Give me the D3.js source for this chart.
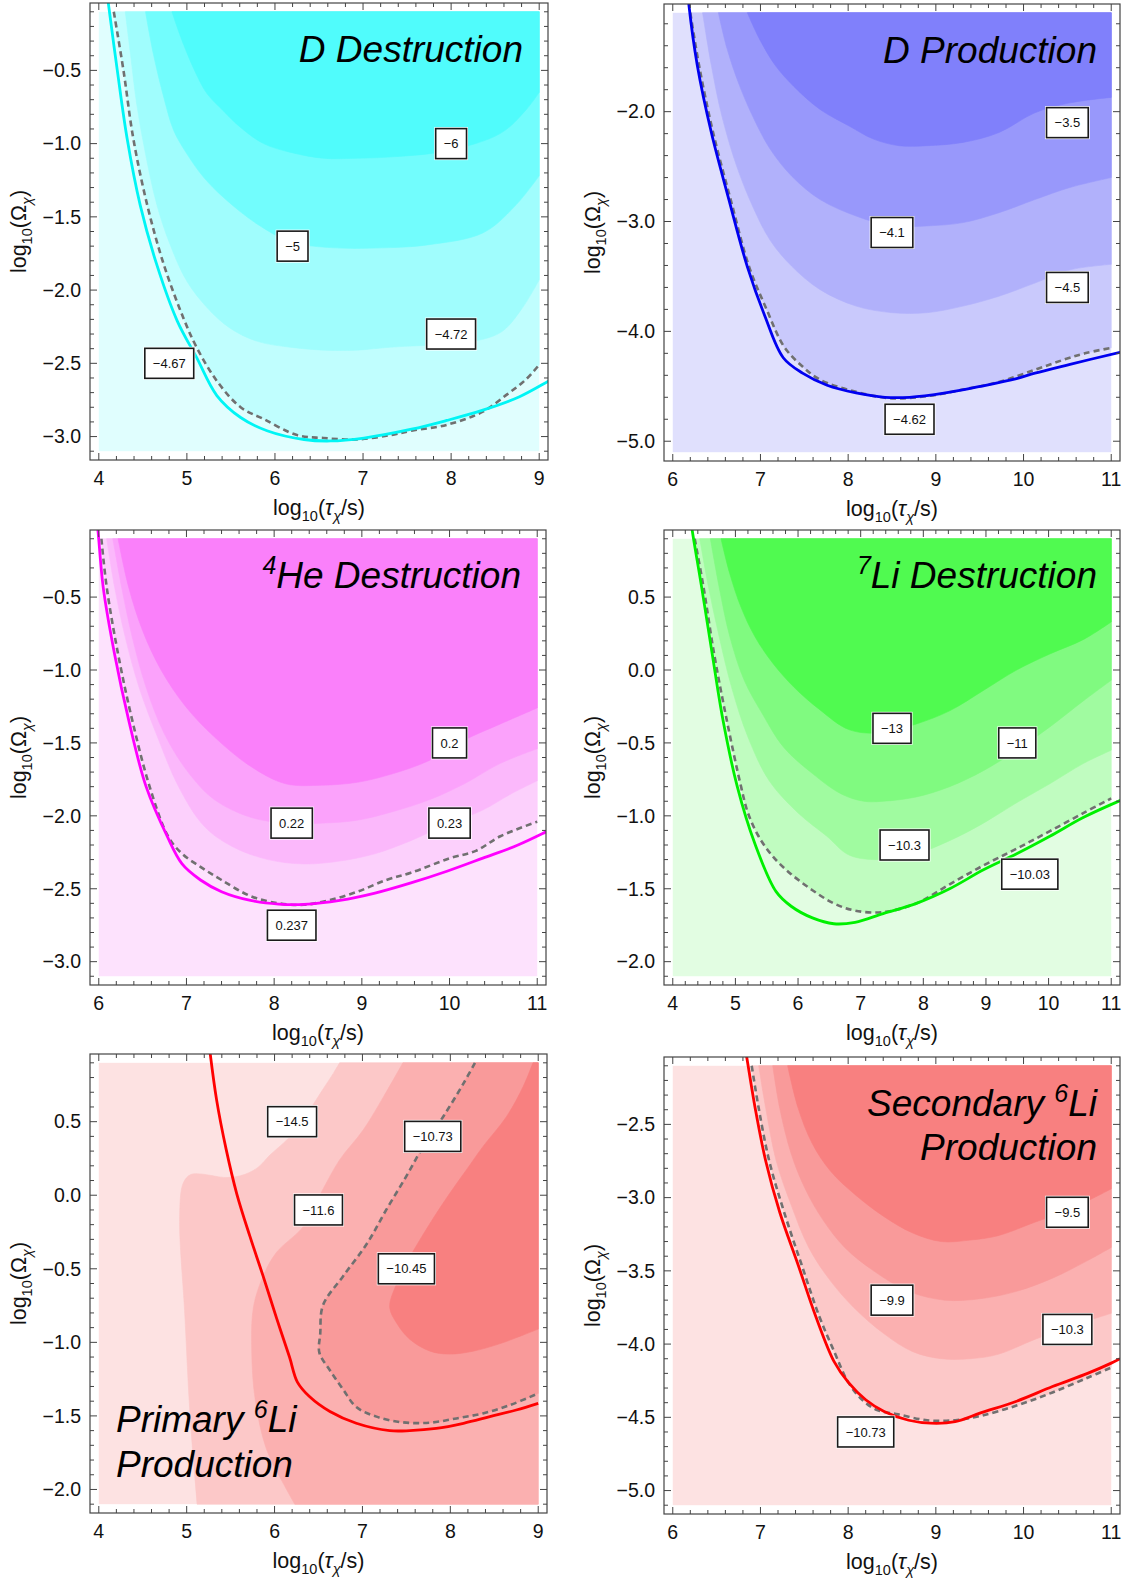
<!DOCTYPE html>
<html><head><meta charset="utf-8">
<script src="https://cdn.jsdelivr.net/npm/d3@7"></script>
<style>
body{margin:0;background:#fff}
svg{display:block}
text{font-family:"Liberation Sans",Arial,Helvetica,sans-serif}
</style>
</head><body>
<svg id="chart" width="1130" height="1579"></svg>
<script>
// ---------------- DATA (log10 tau, log10 Omega) ----------------
// Panel 1: D Destruction
const p1Domain = {x:[4,9], y:[-3.1,-0.1]};
const p1XTicks = [4,5,6,7,8,9];
const p1YTicks = [-0.5,-1.0,-1.5,-2.0,-2.5,-3.0];
const p1Levels = ["−4.67","−4.72","−5","−6"];
const p1C467 = [[4.17,-0.1],[4.28,-0.50],[4.39,-0.96],[4.55,-1.42],[4.74,-1.83],[4.96,-2.19],[5.11,-2.39],[5.34,-2.62],[5.61,-2.80],[5.87,-2.88],[6.25,-2.99],[6.55,-3.01],[6.93,-3.02],[7.31,-2.99],[7.55,-2.96],[7.95,-2.92],[8.36,-2.83],[8.64,-2.71],[8.85,-2.61],[9.0,-2.51]];
const p1C472 = [[4.30,-0.1],[4.36,-0.39],[4.43,-0.73],[4.53,-1.07],[4.66,-1.42],[4.81,-1.69],[5.00,-1.94],[5.23,-2.12],[5.49,-2.26],[5.80,-2.35],[6.17,-2.39],[6.55,-2.41],[6.93,-2.41],[7.31,-2.39],[7.95,-2.37],[8.16,-2.36],[8.56,-2.29],[8.80,-2.13],[9.0,-1.93]];
const p1C5 = [[4.53,-0.1],[4.62,-0.39],[4.74,-0.69],[4.85,-0.91],[5.00,-1.07],[5.19,-1.23],[5.42,-1.37],[5.80,-1.55],[6.18,-1.67],[6.63,-1.71],[7.31,-1.71],[7.75,-1.69],[8.36,-1.61],[8.72,-1.43],[9.0,-1.22]];
const p1C6 = [[4.83,-0.1],[4.96,-0.32],[5.11,-0.53],[5.23,-0.66],[5.42,-0.78],[5.61,-0.89],[5.87,-1.0],[6.18,-1.06],[6.55,-1.10],[6.93,-1.10],[7.34,-1.09],[7.95,-1.05],[8.56,-0.93],[8.85,-0.77],[9.0,-0.65]];
const p1Bound = [[4.10,0.0],[4.11,-0.05],[4.21,-0.50],[4.32,-0.96],[4.47,-1.42],[4.66,-1.83],[4.89,-2.21],[5.11,-2.46],[5.34,-2.72],[5.61,-2.87],[5.91,-2.96],[6.33,-3.02],[6.63,-3.03],[7.01,-3.01],[7.55,-2.95],[7.95,-2.89],[8.36,-2.82],[8.77,-2.73],[9.11,-2.62],[9.2,-2.59]];
const p1LabelPos = [[4.8,-2.5],[8.0,-2.3],[6.2,-1.7],[8.0,-1.0]];

// Panel 2: D Production
const p2Domain = {x:[6,11], y:[-5.1,-1.1]};
const p2XTicks = [6,7,8,9,10,11];
const p2YTicks = [-2.0,-3.0,-4.0,-5.0];
const p2Levels = ["−4.62","−4.5","−4.1","−3.5"];
const p2C462 = [[6.20,-1.1],[6.30,-1.58],[6.46,-2.19],[6.66,-2.80],[6.87,-3.41],[7.07,-3.80],[7.27,-4.14],[7.48,-4.32],[7.68,-4.44],[8.09,-4.55],[8.50,-4.61],[8.90,-4.59],[9.31,-4.53],[9.72,-4.46],[10.13,-4.35],[10.45,-4.26],[10.70,-4.20],[11.0,-4.15]];
const p2C45 = [[6.34,-1.1],[6.44,-1.58],[6.56,-2.04],[6.73,-2.50],[6.91,-2.86],[7.11,-3.17],[7.36,-3.41],[7.68,-3.62],[8.09,-3.77],[8.50,-3.83],[8.90,-3.83],[9.31,-3.77],[9.72,-3.68],[10.13,-3.56],[10.53,-3.44],[11.0,-3.39]];
const p2C41 = [[6.52,-1.1],[6.62,-1.43],[6.75,-1.74],[6.91,-2.04],[7.11,-2.34],[7.36,-2.59],[7.68,-2.80],[8.09,-2.95],[8.50,-3.04],[8.90,-3.04],[9.31,-3.01],[9.72,-2.92],[10.13,-2.80],[10.53,-2.69],[11.0,-2.60]];
const p2C35 = [[6.85,-1.1],[6.99,-1.34],[7.17,-1.58],[7.38,-1.77],[7.68,-1.98],[8.01,-2.13],[8.29,-2.25],[8.58,-2.31],[8.90,-2.31],[9.31,-2.28],[9.72,-2.19],[10.13,-2.01],[10.53,-1.92],[11.0,-1.87]];
const p2Bound = [[6.17,-0.9],[6.18,-1.0],[6.28,-1.58],[6.44,-2.19],[6.64,-2.80],[6.85,-3.41],[7.05,-3.86],[7.26,-4.24],[7.48,-4.38],[7.76,-4.49],[8.09,-4.56],[8.42,-4.60],[8.70,-4.60],[9.11,-4.56],[9.51,-4.50],[9.92,-4.43],[10.13,-4.38],[10.53,-4.30],[11.1,-4.19],[11.2,-4.17]];
const p2LabelPos = [[8.7,-4.8],[10.5,-3.6],[8.5,-3.1],[10.5,-2.1]];

// Panel 3: 4He Destruction
const p3Domain = {x:[6,11], y:[-3.1,-0.1]};
const p3XTicks = [6,7,8,9,10,11];
const p3YTicks = [-0.5,-1.0,-1.5,-2.0,-2.5,-3.0];
const p3Levels = ["0.237","0.23","0.22","0.2"];
const p3C237 = [[6.03,-0.1],[6.09,-0.43],[6.22,-0.89],[6.38,-1.34],[6.58,-1.80],[6.79,-2.14],[6.95,-2.26],[7.16,-2.35],[7.40,-2.44],[7.73,-2.55],[8.05,-2.60],[8.34,-2.61],[8.62,-2.58],[8.95,-2.52],[9.28,-2.44],[9.56,-2.39],[10.01,-2.29],[10.30,-2.24],[10.58,-2.14],[11.0,-2.04]];
const p3C23 = [[6.09,-0.1],[6.18,-0.43],[6.30,-0.77],[6.46,-1.12],[6.67,-1.46],[6.91,-1.80],[7.20,-2.07],[7.52,-2.21],[7.93,-2.30],[8.34,-2.33],[8.75,-2.31],[9.15,-2.26],[9.56,-2.17],[9.97,-2.06],[10.38,-1.96],[10.70,-1.85],[11.0,-1.76]];
const p3C22 = [[6.16,-0.1],[6.26,-0.43],[6.38,-0.77],[6.54,-1.12],[6.75,-1.44],[7.03,-1.71],[7.32,-1.89],[7.73,-2.01],[8.13,-2.05],[8.54,-2.05],[8.95,-2.03],[9.36,-1.97],[9.77,-1.89],[10.17,-1.78],[10.58,-1.64],[11.0,-1.54]];
const p3C20 = [[6.22,-0.1],[6.34,-0.43],[6.50,-0.73],[6.71,-1.0],[6.99,-1.25],[7.32,-1.46],[7.73,-1.66],[8.13,-1.78],[8.54,-1.79],[8.95,-1.77],[9.36,-1.71],[9.77,-1.62],[10.17,-1.48],[10.58,-1.37],[11.0,-1.26]];
const p3Bound = [[5.98,0.0],[5.99,-0.04],[6.05,-0.43],[6.18,-0.89],[6.34,-1.34],[6.54,-1.80],[6.78,-2.14],[6.95,-2.33],[7.16,-2.44],[7.40,-2.52],[7.73,-2.58],[8.05,-2.605],[8.34,-2.607],[8.75,-2.58],[9.15,-2.53],[9.56,-2.46],[9.97,-2.38],[10.38,-2.29],[10.78,-2.20],[11.1,-2.11],[11.2,-2.08]];
const p3LabelPos = [[8.2,-2.75],[10.0,-2.05],[8.2,-2.05],[10.0,-1.5]];

// Panel 4: 7Li Destruction
const p4Domain = {x:[4,11], y:[-2.1,0.9]};
const p4XTicks = [4,5,6,7,8,9,10,11];
const p4YTicks = [0.5,0.0,-0.5,-1.0,-1.5,-2.0];
const p4Levels = ["−10.03","−10.3","−11","−13"];
const p4C1003 = [[4.35,0.9],[4.49,0.57],[4.66,0.11],[4.86,-0.34],[5.09,-0.80],[5.20,-0.98],[5.37,-1.14],[5.60,-1.28],[5.89,-1.40],[6.23,-1.51],[6.57,-1.60],[6.91,-1.65],[7.36,-1.66],[7.89,-1.60],[8.42,-1.47],[8.96,-1.34],[9.49,-1.225],[10.02,-1.105],[10.56,-0.98],[11.0,-0.88]];
const p4C103 = [[4.43,0.9],[4.57,0.57],[4.74,0.23],[4.94,-0.12],[5.20,-0.46],[5.54,-0.76],[6.0,-0.98],[6.46,-1.14],[6.82,-1.27],[7.36,-1.30],[7.89,-1.26],[8.42,-1.17],[8.96,-1.05],[9.49,-0.91],[10.02,-0.78],[10.56,-0.64],[11.0,-0.55]];
const p4C11 = [[4.60,0.9],[4.74,0.57],[4.91,0.23],[5.14,-0.07],[5.43,-0.30],[5.77,-0.53],[6.23,-0.71],[6.69,-0.85],[7.05,-0.90],[7.36,-0.90],[7.89,-0.87],[8.42,-0.80],[8.96,-0.69],[9.49,-0.55],[10.02,-0.39],[10.56,-0.21],[11.0,-0.07]];
const p4C13 = [[4.77,0.9],[4.91,0.66],[5.09,0.43],[5.31,0.23],[5.60,0.045],[5.94,-0.12],[6.34,-0.27],[6.82,-0.41],[7.36,-0.43],[7.89,-0.37],[8.42,-0.28],[8.96,-0.14],[9.49,0.0],[10.02,0.11],[10.56,0.21],[11.0,0.33]];
const p4Bound = [[4.30,1.0],[4.31,0.96],[4.46,0.57],[4.63,0.11],[4.80,-0.34],[5.03,-0.80],[5.31,-1.19],[5.65,-1.52],[5.89,-1.62],[6.23,-1.70],[6.57,-1.74],[6.91,-1.73],[7.36,-1.67],[7.89,-1.60],[8.42,-1.50],[8.96,-1.37],[9.49,-1.26],[10.02,-1.14],[10.56,-1.01],[11.17,-0.89]];
const p4LabelPos = [[9.7,-1.4],[7.7,-1.2],[9.5,-0.5],[7.5,-0.4]];

// Panel 5: Primary 6Li Production
const p5Domain = {x:[4,9], y:[-2.1,0.9]};
const p5XTicks = [4,5,6,7,8,9];
const p5YTicks = [0.5,0.0,-0.5,-1.0,-1.5,-2.0];
const p5Levels = ["−14.5","−11.6","−10.73","−10.45"];
const p5C145 = [[6.74,0.9],[6.67,0.83],[6.55,0.72],[6.40,0.58],[6.25,0.445],[6.10,0.354],[5.95,0.275],[5.80,0.184],[5.61,0.132],[5.42,0.121],[5.30,0.132],[5.15,0.145],[5.04,0.139],[4.96,0.082],[4.92,-0.145],[4.98,-0.825],[5.04,-1.51],[5.12,-2.1]];
const p5C116 = [[7.46,0.9],[7.24,0.67],[7.01,0.445],[6.74,0.24],[6.55,0.04],[6.33,-0.21],[6.02,-0.39],[5.87,-0.55],[5.76,-0.76],[5.74,-1.05],[5.78,-1.39],[5.91,-1.73],[6.10,-1.96],[6.23,-2.1]];
const p5C1073 = [[8.28,0.9],[8.15,0.76],[7.92,0.535],[7.69,0.33],[7.50,0.13],[7.27,-0.10],[7.05,-0.33],[6.78,-0.55],[6.55,-0.75],[6.52,-0.94],[6.51,-1.07],[6.63,-1.19],[6.78,-1.32],[6.93,-1.44],[7.16,-1.505],[7.46,-1.544],[7.77,-1.546],[8.07,-1.517],[8.37,-1.483],[8.68,-1.426],[9.0,-1.347]];
const p5C1045 = [[8.94,0.9],[8.83,0.74],[8.64,0.535],[8.37,0.33],[8.18,0.17],[7.99,0.01],[7.77,-0.19],[7.54,-0.42],[7.39,-0.60],[7.31,-0.76],[7.39,-0.87],[7.54,-0.98],[7.77,-1.06],[7.99,-1.08],[8.26,-1.06],[8.56,-1.01],[8.83,-0.95],[9.0,-0.91]];
const p5Bound = [[5.26,1.0],[5.34,0.65],[5.45,0.31],[5.57,0.01],[5.72,-0.28],[5.87,-0.55],[6.02,-0.83],[6.17,-1.10],[6.26,-1.27],[6.40,-1.37],[6.63,-1.47],[6.93,-1.55],[7.31,-1.60],[7.54,-1.60],[7.84,-1.585],[8.15,-1.55],[8.45,-1.505],[8.75,-1.46],[9.0,-1.415]];
const p5LabelPos = [[6.2,0.5],[6.5,-0.1],[7.8,0.4],[7.5,-0.5]];
const p5DashedIndex = 2;

// Panel 6: Secondary 6Li Production
const p6Domain = {x:[6,11], y:[-5.1,-2.1]};
const p6XTicks = [6,7,8,9,10,11];
const p6YTicks = [-2.5,-3.0,-3.5,-4.0,-4.5,-5.0];
const p6Levels = ["−10.73","−10.3","−9.9","−9.5"];
const p6C1073 = [[6.90,-2.1],[6.98,-2.39],[7.10,-2.75],[7.27,-3.10],[7.47,-3.46],[7.67,-3.81],[7.84,-4.05],[8.0,-4.26],[8.16,-4.38],[8.33,-4.45],[8.57,-4.48],[8.90,-4.52],[9.22,-4.52],[9.51,-4.49],[9.92,-4.42],[10.33,-4.33],[10.73,-4.23],[11.0,-4.16]];
const p6C103 = [[6.98,-2.1],[7.06,-2.39],[7.18,-2.75],[7.35,-3.05],[7.55,-3.34],[7.80,-3.57],[8.08,-3.76],[8.41,-3.93],[8.73,-4.05],[9.06,-4.10],[9.39,-4.10],[9.71,-4.07],[10.12,-3.97],[10.53,-3.88],[11.0,-3.79]];
const p6C99 = [[7.14,-2.1],[7.22,-2.39],[7.35,-2.70],[7.51,-2.94],[7.71,-3.15],[7.96,-3.34],[8.29,-3.50],[8.69,-3.64],[9.10,-3.70],[9.51,-3.69],[9.92,-3.64],[10.33,-3.55],[10.73,-3.43],[11.0,-3.34]];
const p6C95 = [[7.31,-2.1],[7.43,-2.39],[7.59,-2.63],[7.80,-2.82],[8.08,-2.98],[8.41,-3.13],[8.73,-3.24],[9.06,-3.30],[9.39,-3.29],[9.71,-3.26],[10.12,-3.17],[10.53,-3.08],[11.0,-2.94]];
const p6Bound = [[6.83,-2.0],[6.84,-2.03],[6.94,-2.39],[7.06,-2.75],[7.22,-3.10],[7.43,-3.46],[7.63,-3.81],[7.84,-4.12],[8.0,-4.26],[8.20,-4.38],[8.41,-4.46],[8.69,-4.52],[8.94,-4.54],[9.22,-4.53],[9.51,-4.47],[9.92,-4.39],[10.33,-4.29],[10.73,-4.20],[11.0,-4.13],[11.1,-4.10]];
const p6LabelPos = [[8.2,-4.6],[10.5,-3.9],[8.5,-3.7],[10.5,-3.1]];

// ---------------- STYLE / LAYOUT ----------------
const cyanFills = ["#e0fefe","#c0fefe","#a0fdfd","#72fdfd","#50fcfc"];
const blueFills = ["#e0e0fd","#c9c9fc","#b1b1fb","#9898fb","#8080fb"];
const magentaFills = ["#fde2fd","#fcd0fc","#fbb8fb","#fba2fb","#fa80fa"];
const greenFills = ["#e2fde2","#c0fcc0","#a0fba0","#80fa80","#50fa50"];
const redFills = ["#fde2e2","#fcc8c8","#fbb0b0","#f99a9a","#f88080"];

const panels = [
  {dom:p1Domain, xt:p1XTicks, yt:p1YTicks, yMinor:0.1, curves:[p1C467,p1C472,p1C5,p1C6], levels:p1Levels, lab:p1LabelPos, bound:p1Bound, dashed:0,
   fills:cyanFills, lineColor:"#00f5f5", frame:[90,3,458,457], title:[[["D Destruction"]]], anchor:"end", tx:523, ty:[62]},
  {dom:p2Domain, xt:p2XTicks, yt:p2YTicks, yMinor:0.2, curves:[p2C462,p2C45,p2C41,p2C35], levels:p2Levels, lab:p2LabelPos, bound:p2Bound, dashed:0,
   fills:blueFills, lineColor:"#0000f0", frame:[664,4,456,457], title:[[["D Production"]]], anchor:"end", tx:1097, ty:[63]},
  {dom:p3Domain, xt:p3XTicks, yt:p3YTicks, yMinor:0.1, curves:[p3C237,p3C23,p3C22,p3C20], levels:p3Levels, lab:p3LabelPos, bound:p3Bound, dashed:0,
   fills:magentaFills, lineColor:"#ff00ff", frame:[90,530,456,455], title:[[["4","sup"],["He Destruction"]]], anchor:"end", tx:521, ty:[588]},
  {dom:p4Domain, xt:p4XTicks, yt:p4YTicks, yMinor:0.1, curves:[p4C1003,p4C103,p4C11,p4C13], levels:p4Levels, lab:p4LabelPos, bound:p4Bound, dashed:0,
   fills:greenFills, lineColor:"#00f000", frame:[664,530,456,455], title:[[["7","sup"],["Li Destruction"]]], anchor:"end", tx:1097, ty:[588]},
  {dom:p5Domain, xt:p5XTicks, yt:p5YTicks, yMinor:0.1, curves:[p5C145,p5C116,p5C1073,p5C1045], levels:p5Levels, lab:p5LabelPos, bound:p5Bound, dashed:p5DashedIndex,
   fills:redFills, lineColor:"#ff0000", frame:[90,1054,457,459], title:[[["Primary "],["6","sup"],["Li"]],[["Production"]]], anchor:"start", tx:116, ty:[1432,1477]},
  {dom:p6Domain, xt:p6XTicks, yt:p6YTicks, yMinor:0.1, curves:[p6C1073,p6C103,p6C99,p6C95], levels:p6Levels, lab:p6LabelPos, bound:p6Bound, dashed:0,
   fills:redFills, lineColor:"#ff0000", frame:[664,1057,456,457], title:[[["Secondary "],["6","sup"],["Li"]],[["Production"]]], anchor:"end", tx:1097, ty:[1116,1160]}
];

const svg = d3.select("#chart");
const frameColor = "#444";
const tickFont = 19.5, axisFont = 21.5, subFont = 14.5;
const fmtY = v => d3.format(".1f")(v).replace("-", "−");

// walk the domain rectangle counter-clockwise from the curve end back to its start
function closingCorners(pts, dom){
  const [x0,x1] = dom.x, [y0,y1] = dom.y;
  const W = x1-x0, H = y1-y0, P = 2*(W+H);
  const t = p => {
    const [x,y] = p;
    const d = [Math.abs(y-y0), Math.abs(x-x1), Math.abs(y-y1), Math.abs(x-x0)];
    const m = d.indexOf(Math.min(...d));
    if (m===0) return x-x0;
    if (m===1) return W + (y-y0);
    if (m===2) return W+H + (x1-x);
    return 2*W+H + (y1-y);
  };
  const corners = [[W,[x1,y0]],[W+H,[x1,y1]],[2*W+H,[x0,y1]],[P,[x0,y0]]];
  const te = t(pts[pts.length-1]);
  let ts = t(pts[0]); if (ts < te) ts += P;
  const out = [];
  for (let k=0;k<2;k++) for (const [ct,c] of corners){ const tt = ct + k*P; if (tt>te && tt<ts) out.push([tt,c]); }
  out.sort((a,b)=>a[0]-b[0]);
  return out.map(d=>d[1]);
}

function addAxisTitle(sel, parts, size){
  parts.forEach(p=>{
    const ts = sel.append("tspan").text(p.t);
    if (p.it) ts.attr("font-style","italic");
    if (p.sub){ ts.attr("font-size",subFont).attr("dy", size*0.28); }
    if (p.back){ ts.attr("dy", -size*0.28); }
  });
}

panels.forEach((P,pi)=>{
  const [L,T,W,H] = P.frame;
  const dx = P.dom.x[1]-P.dom.x[0], dy = P.dom.y[1]-P.dom.y[0];
  const x = d3.scaleLinear().domain([P.dom.x[0]-0.02*dx, P.dom.x[1]+0.02*dx]).range([L, L+W]);
  const y = d3.scaleLinear().domain([P.dom.y[0]-0.02*dy, P.dom.y[1]+0.02*dy]).range([T+H, T]);
  const g = svg.append("g");
  const cid = "clip"+pi;
  g.append("clipPath").attr("id",cid).append("rect").attr("x",L).attr("y",T).attr("width",W).attr("height",H);
  const line = d3.line().x(d=>x(d[0])).y(d=>y(d[1])).curve(d3.curveCatmullRom.alpha(0.5));

  // base fill
  g.append("rect").attr("x",x(P.dom.x[0])).attr("y",y(P.dom.y[1]))
    .attr("width",x(P.dom.x[1])-x(P.dom.x[0])).attr("height",y(P.dom.y[0])-y(P.dom.y[1]))
    .attr("fill",P.fills[0]);
  // contour regions
  P.curves.forEach((c,i)=>{
    const corners = closingCorners(c, P.dom);
    const d = line(c) + corners.map(k=>`L${x(k[0])},${y(k[1])}`).join("") + "Z";
    g.append("path").attr("d",d).attr("fill",P.fills[i+1]).attr("stroke",P.fills[i+1]).attr("stroke-width",0.6);
  });
  const lg = g.append("g").attr("clip-path",`url(#${cid})`);
  lg.append("path").attr("d",line(P.curves[P.dashed])).attr("fill","none")
    .attr("stroke","#707070").attr("stroke-width",2.6).attr("stroke-dasharray","6,4");
  lg.append("path").attr("d",line(P.bound)).attr("fill","none")
    .attr("stroke",P.lineColor).attr("stroke-width",2.8).attr("stroke-linejoin","round");

  // frame + ticks
  g.append("rect").attr("x",L).attr("y",T).attr("width",W).attr("height",H)
    .attr("fill","none").attr("stroke",frameColor).attr("stroke-width",1.2);
  const xd = x.domain(), yd = y.domain();
  const minorX = d3.range(Math.ceil(xd[0]/0.2)*0.2, xd[1]+1e-9, 0.2).map(v=>+v.toFixed(4));
  const minorY = d3.range(Math.ceil(yd[0]/P.yMinor)*P.yMinor, yd[1]+1e-9, P.yMinor).map(v=>+v.toFixed(4));
  const tk = g.append("g").attr("stroke",frameColor).attr("stroke-width",1);
  minorX.forEach(v=>{
    const isMaj = P.xt.some(m=>Math.abs(m-v)<1e-6); const len = isMaj?7:4;
    tk.append("line").attr("x1",x(v)).attr("x2",x(v)).attr("y1",T+H).attr("y2",T+H-len);
    tk.append("line").attr("x1",x(v)).attr("x2",x(v)).attr("y1",T).attr("y2",T+len);
  });
  minorY.forEach(v=>{
    const isMaj = P.yt.some(m=>Math.abs(m-v)<1e-6); const len = isMaj?7:4;
    tk.append("line").attr("y1",y(v)).attr("y2",y(v)).attr("x1",L).attr("x2",L+len);
    tk.append("line").attr("y1",y(v)).attr("y2",y(v)).attr("x1",L+W).attr("x2",L+W-len);
  });
  P.xt.forEach(v=>{
    g.append("text").attr("x",x(v)).attr("y",T+H+25).attr("text-anchor","middle")
      .attr("font-size",tickFont).attr("fill","#111").text(d3.format("d")(v));
  });
  P.yt.forEach(v=>{
    g.append("text").attr("x",L-9).attr("y",y(v)).attr("dy","0.35em").attr("text-anchor","end")
      .attr("font-size",tickFont).attr("fill","#111").text(fmtY(v));
  });
  // axis titles
  const xt = g.append("text").attr("x",L+W/2).attr("y",T+H+55).attr("text-anchor","middle")
    .attr("font-size",axisFont).attr("fill","#111");
  addAxisTitle(xt,[{t:"log"},{t:"10",sub:1},{t:"(",back:1},{t:"τ",it:1},{t:"χ",it:1,sub:1},{t:"/s)",back:1}],axisFont);
  const yt = g.append("text").attr("transform",`translate(${L-64},${T+H/2}) rotate(-90)`).attr("text-anchor","middle")
    .attr("font-size",axisFont).attr("fill","#111");
  addAxisTitle(yt,[{t:"log"},{t:"10",sub:1},{t:"(Ω",back:1},{t:"χ",it:1,sub:1},{t:")",back:1}],axisFont);

  // panel title
  P.title.forEach((lineParts,li)=>{
    const t = g.append("text").attr("x",P.tx).attr("y",P.ty[li]).attr("text-anchor",P.anchor)
      .attr("font-size",37).attr("font-style","italic").attr("fill","#000");
    let raised = false;
    lineParts.forEach(pp=>{
      const s = t.append("tspan").text(pp[0]);
      if (pp[1]==="sup"){ s.attr("font-size",25).attr("dy",-14); raised = true; }
      else if (raised){ s.attr("dy",14); raised = false; }
    });
  });

  // contour labels
  P.levels.forEach((lv,i)=>{
    const [lx,ly] = P.lab[i];
    const lgp = g.append("g");
    const tx = lgp.append("text").attr("x",x(lx)).attr("y",y(ly)).attr("dy","0.36em")
      .attr("text-anchor","middle").attr("font-size",13).attr("fill","#111").text(lv);
    const tw = tx.node().getComputedTextLength();
    const bw = tw+16, bh = 30;
    lgp.insert("rect","text").attr("x",x(lx)-bw/2-1.5).attr("y",y(ly)-bh/2-1.5).attr("width",bw+3).attr("height",bh+3).attr("fill","#fff");
    lgp.insert("rect","text").attr("x",x(lx)-bw/2).attr("y",y(ly)-bh/2).attr("width",bw).attr("height",bh)
      .attr("fill","#fff").attr("stroke","#1a1a1a").attr("stroke-width",1.6);
  });
});
</script>
</body></html>
